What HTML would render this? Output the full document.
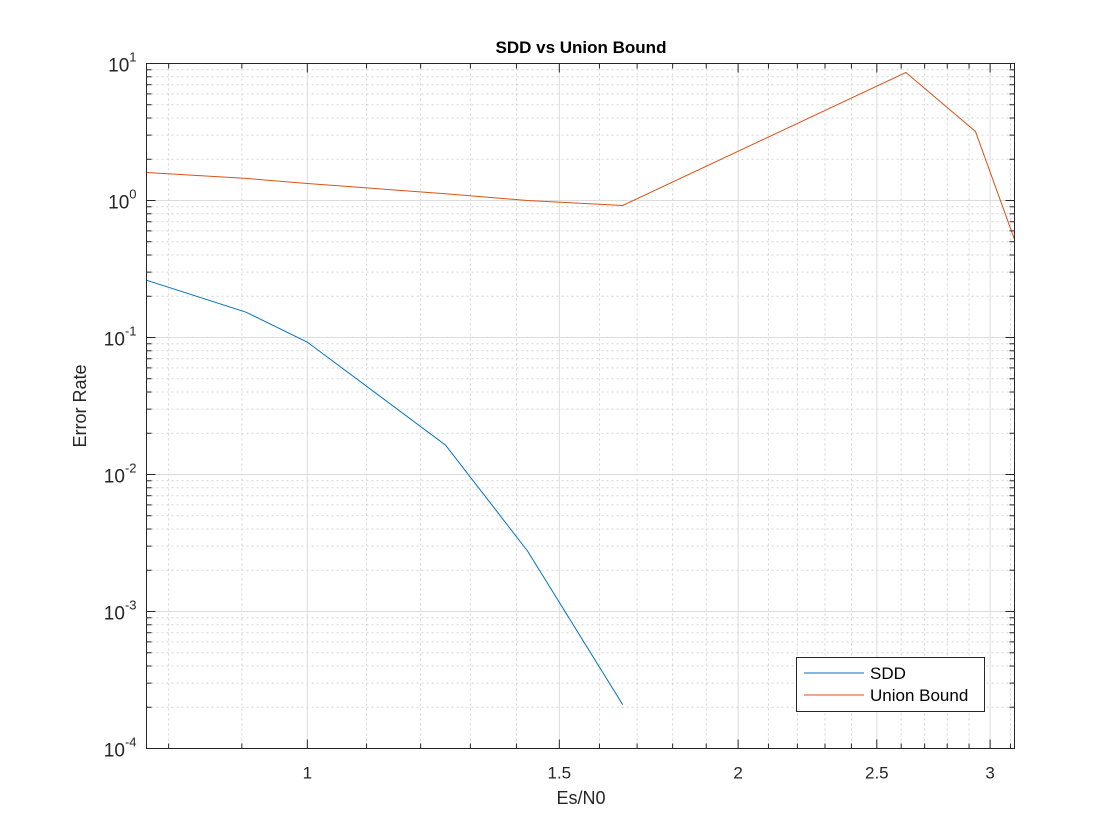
<!DOCTYPE html>
<html><head><meta charset="utf-8"><style>
body{margin:0;background:#fff;}
svg{display:block;font-family:"Liberation Sans",Helvetica,Arial,sans-serif;}
</style></head><body>
<svg id="chart" width="1120" height="840">
<rect width="1120" height="840" fill="#fff"/>
<text x="581" y="53" text-anchor="middle" font-size="17" font-weight="bold" fill="#000">SDD vs Union Bound</text>
<text x="581" y="804" text-anchor="middle" font-size="18" fill="#262626">Es/N0</text>
<text x="86" y="406" text-anchor="middle" font-size="18" fill="#262626" transform="rotate(-90 86 406)">Error Rate</text>
<g id="grid"></g><g id="series"></g><g id="axes"></g>
<g>
<rect x="796.5" y="657.5" width="188" height="54" fill="#fff" stroke="#262626" stroke-width="1"/>
<line x1="804" y1="673" x2="864" y2="673" stroke="#0072BD" stroke-width="1"/>
<text x="870" y="679" font-size="17" fill="#000">SDD</text>
<line x1="804" y1="695" x2="864" y2="695" stroke="#D95319" stroke-width="1"/>
<text x="870" y="701" font-size="17" fill="#000">Union Bound</text>
</g>
</svg>
<script>
const sddX=[0.772,0.906,1.0,1.249,1.425,1.661];
const sddY=[0.262,0.153,0.0925,0.0164,0.00277,0.000209];
const ubX=[0.772,0.906,1.0,1.249,1.425,1.661,2.62,2.93,3.12];
const ubY=[1.60,1.45,1.33,1.12,1.0,0.92,8.6,3.19,0.52];
const xTicks=[1,1.5,2,2.5,3];
const xTickLabels=["1","1.5","2","2.5","3"];
const yExps=[1,0,-1,-2,-3,-4];

const L=146.5,R=1014.5,T=63.5,B=748.5;
const X0=Math.log10(0.772),X1=Math.log10(3.12);
const sx=v=>L+(Math.log10(v)-X0)/(X1-X0)*(R-L);
const sy=v=>T+(1-Math.log10(v))/5*(B-T);
const NS="http://www.w3.org/2000/svg";
function mk(tag,attrs,parent){const e=document.createElementNS(NS,tag);for(const k in attrs)e.setAttribute(k,attrs[k]);document.getElementById(parent).appendChild(e);return e;}
for(let v=0.8;v<3.12;v+=0.1){const r=Math.round(v*10)/10;if(xTicks.includes(r))continue;const x=sx(r);
const g=mk('line',{x1:x,x2:x,y1:T,y2:B,stroke:'#d4d4d4','stroke-dasharray':'2,3','stroke-width':1},'grid');


mk('line',{x1:x,x2:x,y1:B,y2:B-5,stroke:'#262626'},'axes');mk('line',{x1:x,x2:x,y1:T,y2:T+5,stroke:'#262626'},'axes');}
for(let e=-4;e<1;e++)for(let m=2;m<10;m++){const y=sy(m*Math.pow(10,e));
const g=mk('line',{x1:L,x2:R,y1:y,y2:y,stroke:'#d4d4d4','stroke-dasharray':'2,3','stroke-width':1},'grid');


mk('line',{x1:L,x2:L+5,y1:y,y2:y,stroke:'#262626'},'axes');mk('line',{x1:R,x2:R-5,y1:y,y2:y,stroke:'#262626'},'axes');}
xTicks.forEach((v,i)=>{const x=sx(v);
const g=mk('line',{x1:x,x2:x,y1:T,y2:B,stroke:'#dcdcdc'},'grid');


mk('line',{x1:x,x2:x,y1:B,y2:B-9,stroke:'#262626'},'axes');mk('line',{x1:x,x2:x,y1:T,y2:T+9,stroke:'#262626'},'axes');
const t=mk('text',{x:x,y:B+30,'text-anchor':'middle','font-size':17,fill:'#262626'},'axes');t.textContent=xTickLabels[i];

});
yExps.forEach(e=>{const y=sy(Math.pow(10,e));
const g=mk('line',{x1:L,x2:R,y1:y,y2:y,stroke:'#dcdcdc'},'grid');


mk('line',{x1:L,x2:L+9,y1:y,y2:y,stroke:'#262626'},'axes');mk('line',{x1:R,x2:R-9,y1:y,y2:y,stroke:'#262626'},'axes');
const t=mk('text',{x:L-10,y:y+8,'text-anchor':'end','font-size':19,fill:'#262626'},'axes');


const a=document.createElementNS(NS,'tspan');a.textContent='10';t.appendChild(a);
const b=document.createElementNS(NS,'tspan');b.setAttribute('dy','-10');b.setAttribute('font-size','13');b.textContent=String(e);t.appendChild(b);});
const box=mk('rect',{x:L,y:T,width:R-L,height:B-T,fill:'none',stroke:'#262626'},'axes');


function line(xs,ys,c,n){const p=mk('polyline',{points:xs.map((v,i)=>sx(v)+','+sy(ys[i])).join(' '),fill:'none',stroke:c,'stroke-width':1},'series');

}
line(sddX,sddY,'#0072BD','sdd-line');
line(ubX,ubY,'#D95319','union-bound-line');
</script>
</body></html>
